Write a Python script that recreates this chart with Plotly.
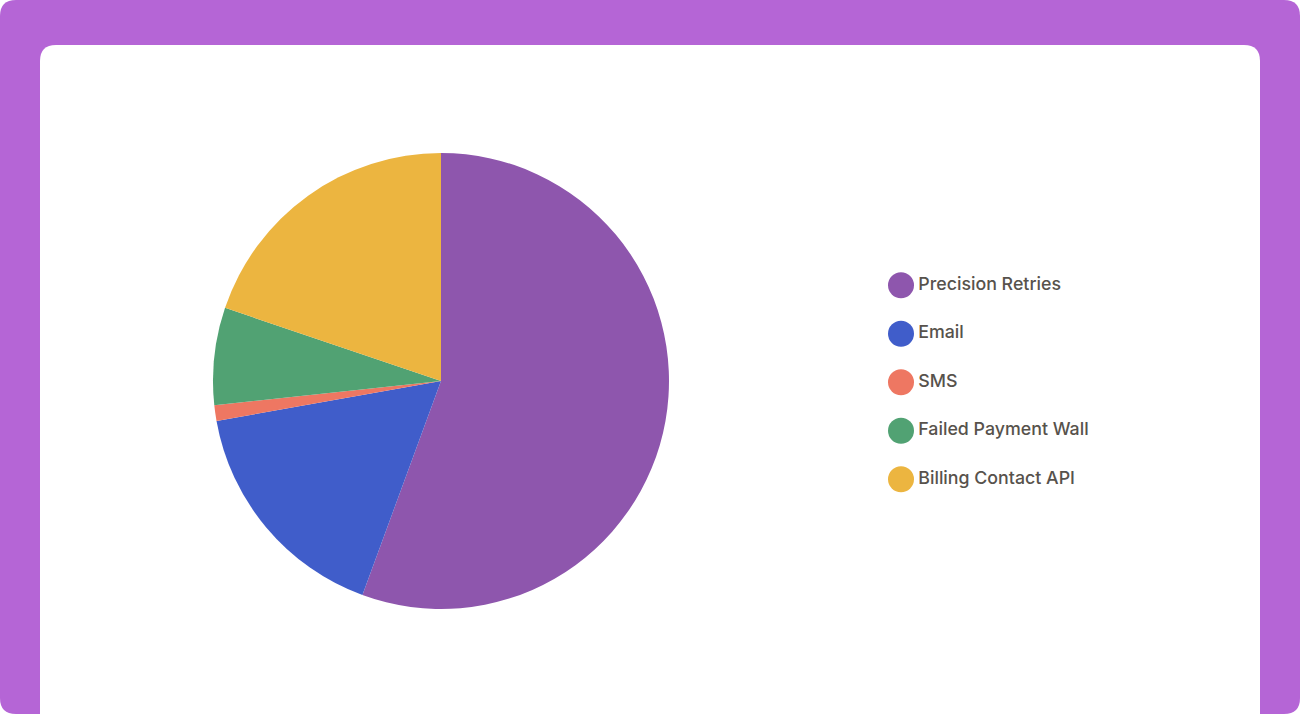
import plotly.graph_objects as go

# channel share data
channels = ['Precision Retries', 'Email', 'SMS', 'Failed Payment Wall', 'Billing Contact API']
shares = [55.6, 16.6, 1.1, 6.9, 19.8]
colors = ['#8e56ad', '#405dca', '#ee7762', '#51a273', '#ecb540']

W, H = 1300, 715

def px_x(v):
    return v / W

def px_y(v):
    return 1 - v / H

def rounded_rect(x0, y0, x1, y1, r):
    # path in paper coords from pixel box (top-left origin)
    rx, ry = r / W, r / H
    X0, X1 = px_x(x0), px_x(x1)
    Y0, Y1 = px_y(y0), px_y(y1)
    return (f'M {X0+rx},{Y0} L {X1-rx},{Y0} Q {X1},{Y0} {X1},{Y0-ry} '
            f'L {X1},{Y1+ry} Q {X1},{Y1} {X1-rx},{Y1} '
            f'L {X0+rx},{Y1} Q {X0},{Y1} {X0},{Y1+ry} '
            f'L {X0},{Y0-ry} Q {X0},{Y0} {X0+rx},{Y0} Z')

fig = go.Figure()

# the pie itself
fig.add_trace(go.Pie(
    labels=channels, values=shares, sort=False, direction='clockwise', rotation=0,
    marker=dict(colors=colors, line=dict(width=0)),
    textinfo='none', hoverinfo='label+percent', showlegend=False,
    domain=dict(x=[px_x(213), px_x(669)], y=[px_y(609), px_y(153)]),
))

# legend drawn as circles + labels on a category axis
fig.add_trace(go.Scatter(
    x=[0] * len(channels), y=channels, mode='markers+text',
    marker=dict(size=26, color=colors),
    text=channels, textposition='middle right',
    textfont=dict(size=17.8, color='#57524c', family='Inter, Lato, sans-serif', weight=500),
    hoverinfo='skip', showlegend=False, cliponaxis=False,
))

fig.update_layout(
    width=W, height=H,
    margin=dict(l=0, r=0, t=0, b=0),
    paper_bgcolor='white', plot_bgcolor='rgba(0,0,0,0)',
    font=dict(family='Inter, Lato, sans-serif', color='#57524c'),
    xaxis=dict(domain=[px_x(901), 0.98], range=[0, 1], visible=False, fixedrange=True),
    yaxis=dict(domain=[px_y(503.5), px_y(261)], type='category',
               categoryorder='array', categoryarray=channels,
               range=[len(channels) - 0.5, -0.5], visible=False, fixedrange=True),
    shapes=[
        dict(type='path', xref='paper', yref='paper', layer='below',
             path=rounded_rect(0, 0, 1300, 714, 16),
             fillcolor='#b565d6', line=dict(width=0)),
        dict(type='path', xref='paper', yref='paper', layer='below',
             path=rounded_rect(40, 45, 1260, 740, 16),
             fillcolor='white', line=dict(width=0)),
    ],
)

# drop the default page margin so the figure fills the window
fig.write_html("out.html", config={'displayModeBar': False},
               post_script="document.body.style.margin='0';")
